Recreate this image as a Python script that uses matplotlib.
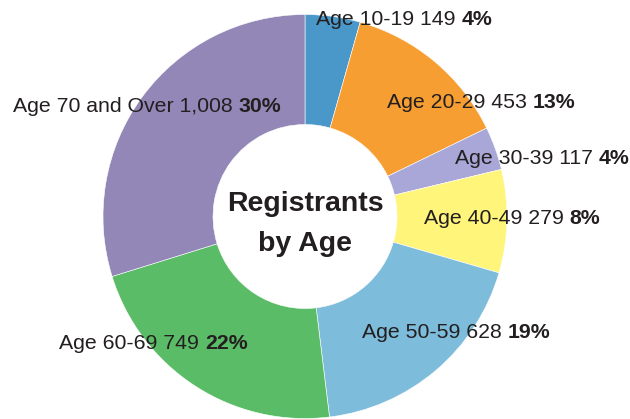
import matplotlib
matplotlib.use("Agg")
import matplotlib.pyplot as plt
from matplotlib import font_manager

# data
groups = ["Age 10-19", "Age 20-29", "Age 30-39", "Age 40-49",
          "Age 50-59", "Age 60-69", "Age 70 and Over"]
counts = [149, 453, 117, 279, 628, 749, 1008]
percents = [4, 13, 4, 8, 19, 22, 30]   # as printed on the chart
colors = ["#4A98C9", "#F79E32", "#A8A7D8", "#FEF57A",
          "#7DBCDA", "#5BBC67", "#9287B7"]

# label anchor (left edge x, centre y) in pixels from the top-left
label_pos = [(316, 20), (387, 102), (455, 158), (424, 218),
             (362, 332), (59, 343), (13, 106)]

W, H = 630, 419
names = {f.name for f in font_manager.fontManager.ttflist}
narrow = "Liberation Sans Narrow" if "Liberation Sans Narrow" in names else "Liberation Sans"
plt.rcParams["font.family"] = ["Liberation Sans", "DejaVu Sans"]

fig = plt.figure(figsize=(W / 100, H / 100), dpi=100)
ax = fig.add_axes([0, 0, 1, 1])

cx, cy = 305, H - 216.5
r_out, r_in = 202, 92
ax.pie(counts, colors=colors, startangle=90, counterclock=False,
       radius=r_out, center=(cx, cy),
       wedgeprops=dict(width=r_out - r_in, edgecolor="white", linewidth=0.4))
ax.set_xlim(0, W)
ax.set_ylim(0, H)
ax.set_aspect("auto")
ax.axis("off")

txt = "#231F20"
for name, n, p, (x, y) in zip(groups, counts, percents, label_pos):
    t1 = ax.text(x, H - y, f"{name} {n:,} ", fontsize=15.3, color=txt,
                 ha="left", va="center")
    ax.annotate(f"{p}%", xy=(1, 0), xycoords=t1,
                ha="left", va="bottom", fontsize=15.3, fontweight="bold",
                color=txt)

size = 23 if narrow != "Liberation Sans" else 20.5
ax.text(cx, H - 224, "Registrants\nby Age", ha="center", va="center",
        fontsize=size, fontweight="bold", family=narrow, color=txt,
        linespacing=1.7)

fig.savefig("out.png", dpi=100)
